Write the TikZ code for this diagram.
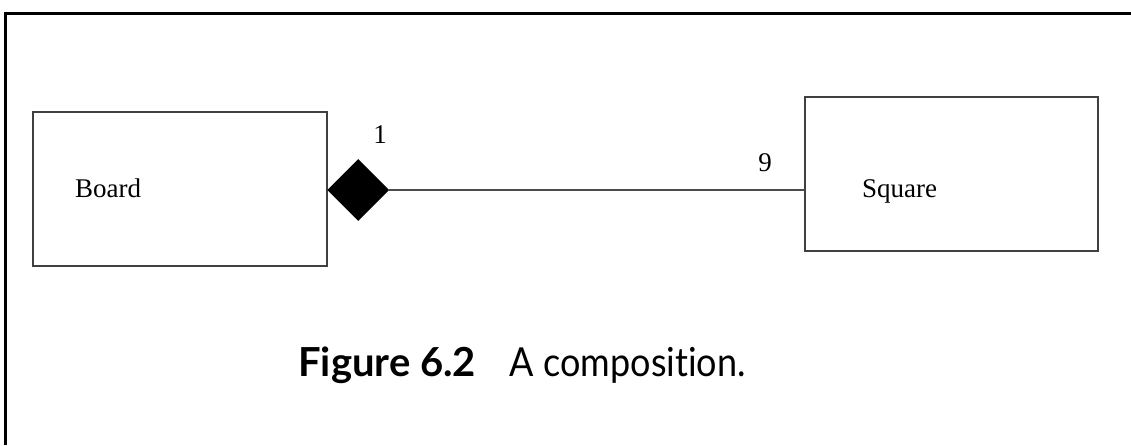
\documentclass[tikz,border=0pt]{standalone}
\usepackage{fontspec}
\setmainfont{Liberation Serif}
\newfontfamily\capfont[Ligatures=NoCommon]{Lato}
\usetikzlibrary{shapes.geometric}
\begin{document}
\begin{tikzpicture}[x=1pt,y=-1pt,
  classbox/.style={draw=black!75,line width=1.3pt,fill=white},
  lbl/.style={font=\fontsize{27}{32}\selectfont,inner sep=0pt},
  conn/.style={draw=black!70,line width=1.2pt}]
\useasboundingbox (0,0) rectangle (1131,445);
\draw[line width=3pt] (5,445) -- (5,13) -- (1131,13);
\draw[classbox] (33,112) rectangle (327,266);
\draw[classbox] (805,97) rectangle (1098,251);
\coordinate (boardR) at (327,190);
\coordinate (squareL) at (805,190);
\node[lbl,anchor=base west] (board) at (75,197) {Board};
\node[lbl,anchor=base west] (square) at (862,197) {Square};
\node[diamond,fill=black,minimum width=62pt,minimum height=62pt,inner sep=0pt,anchor=west] (dia) at (boardR) {};
\draw[conn] (dia.east) -- (squareL);
\node[lbl] (m1) at (380,135) {1};
\node[lbl] (m9) at (765,163) {9};
\node[font=\capfont\fontsize{40}{48}\selectfont,anchor=base west,inner sep=0pt] (cap) at (298,376) {\textbf{Figure 6.2}\hspace{0.85em}\scalebox{0.9}[1]{A composition.}};
\end{tikzpicture}
\end{document}
